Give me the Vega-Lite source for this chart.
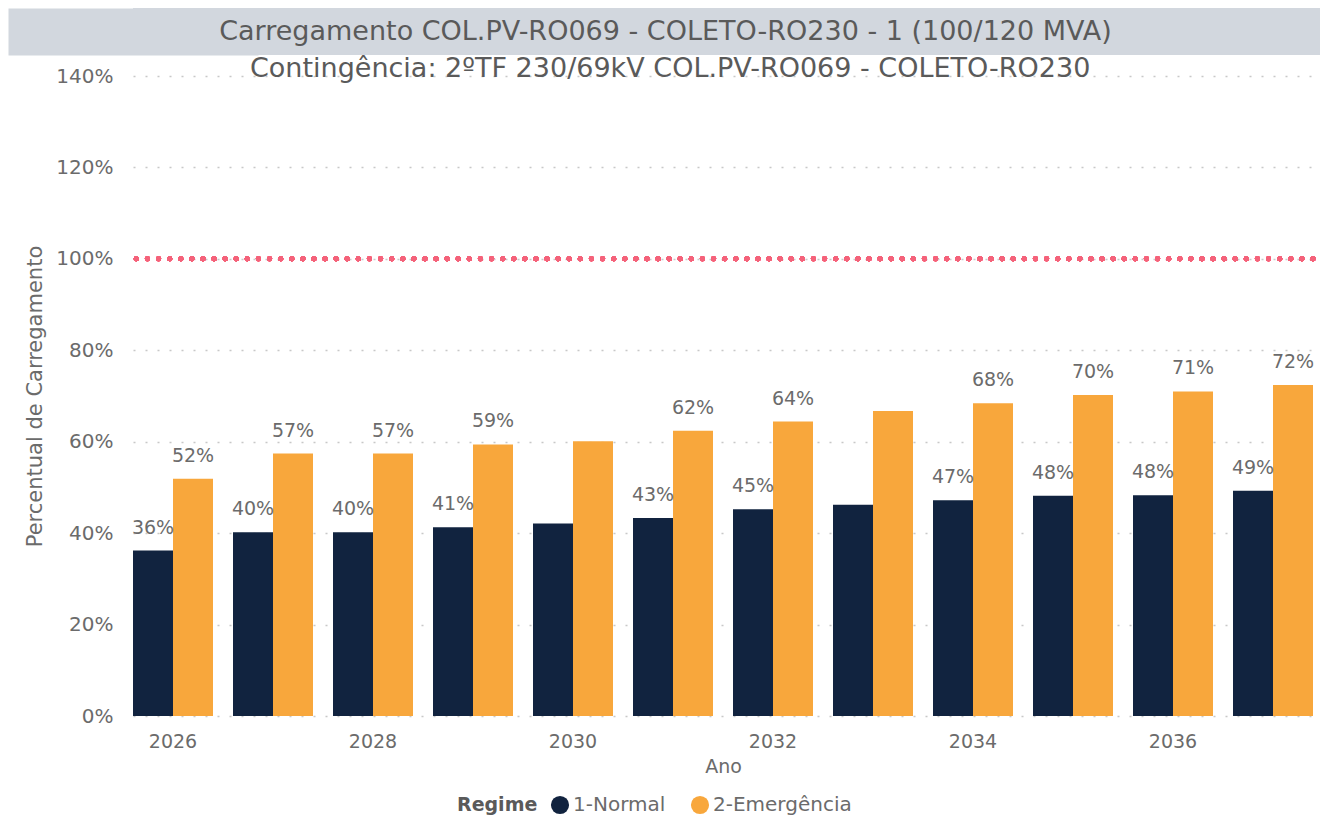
{
  "$schema": "https://vega.github.io/schema/vega-lite/v6.json",
  "padding": {"left": 24, "top": 8, "right": 8, "bottom": 0},
  "background": "white",
  "config": {
    "font": "DejaVu Sans",
    "view": {"stroke": null}
  },
  "spacing": 0,
  "columns": 1,
  "concat": [
    {
      "width": 1187,
      "height": 47,
      "view": {"fill": "#d2d7de", "stroke": null},
      "data": {"values": [{"titulo": "Carregamento COL.PV-RO069 - COLETO-RO230 - 1  (100/120 MVA)", "meio": 0}]},
      "mark": {"type": "text", "fontSize": 27, "color": "#5a5a5a", "dx": -61},
      "encoding": {
        "text": {"field": "titulo"},
        "y": {
          "field": "meio",
          "type": "quantitative",
          "scale": {"domain": [-1, 1]},
          "axis": {
            "title": null,
            "labels": false,
            "ticks": false,
            "grid": false,
            "domain": true,
            "domainColor": "#d2d7de",
            "domainWidth": 250,
            "domainCap": "butt"
          }
        }
      }
    },
    {
      "width": 1180,
      "height": 640,
      "title": {
        "text": "Contingência: 2ºTF 230/69kV COL.PV-RO069 - COLETO-RO230",
        "fontSize": 27,
        "fontWeight": "normal",
        "color": "#5a5a5a",
        "anchor": "middle",
        "frame": "bounds",
        "offset": -17
      },
      "data": {
        "values": [
          {"Ano": 2026, "Regime": "1-Normal", "pct": 36.2, "rotulo": "36%"},
          {"Ano": 2026, "Regime": "2-Emergência", "pct": 51.9, "rotulo": "52%"},
          {"Ano": 2027, "Regime": "1-Normal", "pct": 40.2, "rotulo": "40%"},
          {"Ano": 2027, "Regime": "2-Emergência", "pct": 57.4, "rotulo": "57%"},
          {"Ano": 2028, "Regime": "1-Normal", "pct": 40.2, "rotulo": "40%"},
          {"Ano": 2028, "Regime": "2-Emergência", "pct": 57.4, "rotulo": "57%"},
          {"Ano": 2029, "Regime": "1-Normal", "pct": 41.3, "rotulo": "41%"},
          {"Ano": 2029, "Regime": "2-Emergência", "pct": 59.4, "rotulo": "59%"},
          {"Ano": 2030, "Regime": "1-Normal", "pct": 42.1, "rotulo": ""},
          {"Ano": 2030, "Regime": "2-Emergência", "pct": 60.1, "rotulo": ""},
          {"Ano": 2031, "Regime": "1-Normal", "pct": 43.3, "rotulo": "43%"},
          {"Ano": 2031, "Regime": "2-Emergência", "pct": 62.4, "rotulo": "62%"},
          {"Ano": 2032, "Regime": "1-Normal", "pct": 45.2, "rotulo": "45%"},
          {"Ano": 2032, "Regime": "2-Emergência", "pct": 64.4, "rotulo": "64%"},
          {"Ano": 2033, "Regime": "1-Normal", "pct": 46.2, "rotulo": ""},
          {"Ano": 2033, "Regime": "2-Emergência", "pct": 66.7, "rotulo": ""},
          {"Ano": 2034, "Regime": "1-Normal", "pct": 47.2, "rotulo": "47%"},
          {"Ano": 2034, "Regime": "2-Emergência", "pct": 68.4, "rotulo": "68%"},
          {"Ano": 2035, "Regime": "1-Normal", "pct": 48.2, "rotulo": "48%"},
          {"Ano": 2035, "Regime": "2-Emergência", "pct": 70.2, "rotulo": "70%"},
          {"Ano": 2036, "Regime": "1-Normal", "pct": 48.3, "rotulo": "48%"},
          {"Ano": 2036, "Regime": "2-Emergência", "pct": 71.0, "rotulo": "71%"},
          {"Ano": 2037, "Regime": "1-Normal", "pct": 49.3, "rotulo": "49%"},
          {"Ano": 2037, "Regime": "2-Emergência", "pct": 72.4, "rotulo": "72%"}
        ]
      },
      "layer": [
        {
          "mark": {"type": "bar"},
          "encoding": {
            "x": {
              "field": "Ano",
              "type": "ordinal",
              "scale": {"paddingInner": 0.2, "paddingOuter": 0},
              "axis": {
                "title": "Ano",
                "labelAngle": 0,
                "labelExpr": "datum.value % 2 === 0 ? datum.label : ''",
                "domain": false,
                "ticks": false,
                "labelPadding": 16,
                "labelFontSize": 19,
                "labelColor": "#6b6b6b",
                "titleFontSize": 19,
                "titleFontWeight": "normal",
                "titleColor": "#6b6b6b",
                "titlePadding": 6
              }
            },
            "xOffset": {"field": "Regime", "type": "nominal", "scale": {"paddingInner": 0, "paddingOuter": 0}},
            "y": {
              "field": "pct",
              "type": "quantitative",
              "scale": {"domain": [0, 140], "nice": false},
              "axis": {
                "title": "Percentual de Carregamento",
                "values": [0, 20, 40, 60, 80, 100, 120, 140],
                "labelExpr": "datum.value + '%'",
                "domain": false,
                "ticks": false,
                "grid": true,
                "gridDash": [2, 10],
                "gridColor": "#c8c8c8",
                "gridWidth": 1.5,
                "labelPadding": 20,
                "labelFontSize": 20,
                "labelColor": "#6b6b6b",
                "titleFontSize": 21,
                "titleFontWeight": "normal",
                "titleColor": "#6b6b6b",
                "titlePadding": 10
              }
            },
            "color": {
              "field": "Regime",
              "type": "nominal",
              "scale": {"domain": ["1-Normal", "2-Emergência"], "range": ["#11233f", "#f8a73c"]},
              "legend": {
                "orient": "none",
                "legendX": 324,
                "legendY": 787,
                "direction": "horizontal",
                "title": "Regime",
                "titleOrient": "left",
                "titleFontSize": 19,
                "titleFontWeight": "bold",
                "titleColor": "#5a5a5a",
                "titlePadding": 12,
                "labelFontSize": 20,
                "labelColor": "#6b6b6b",
                "symbolType": "circle",
                "symbolSize": 330,
                "symbolStrokeWidth": 0,
                "columnPadding": 24,
                "labelOffset": 3
              }
            }
          }
        },
        {
          "mark": {"type": "text", "fontSize": 19, "color": "#6b6b6b", "baseline": "alphabetic", "dy": -17},
          "encoding": {
            "x": {"field": "Ano", "type": "ordinal"},
            "xOffset": {"field": "Regime", "type": "nominal"},
            "y": {"field": "pct", "type": "quantitative"},
            "text": {"field": "rotulo"}
          }
        },
        {
          "mark": {"type": "rule", "color": "#f4627a", "strokeWidth": 5, "strokeDash": [0.1, 11], "strokeCap": "round"},
          "encoding": {"y": {"datum": 100}}
        }
      ]
    }
  ]
}
